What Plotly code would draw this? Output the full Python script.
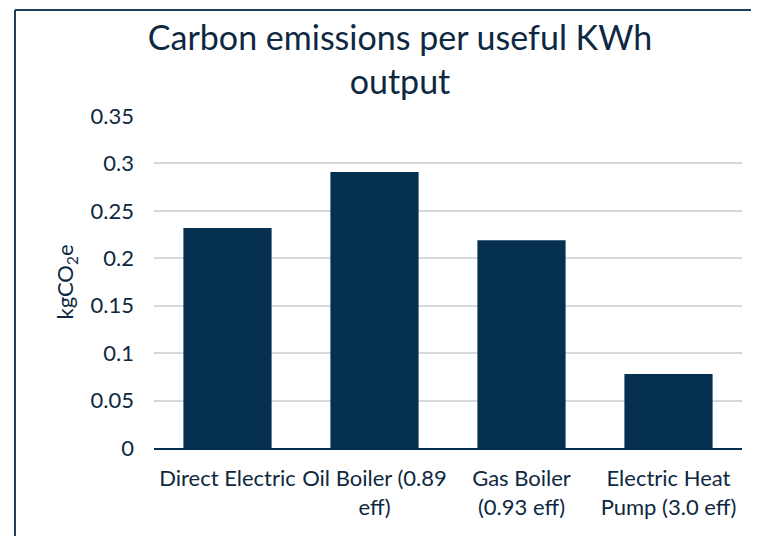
import plotly.graph_objects as go

categories = ["Direct Electric", "Oil Boiler (0.89<br>eff)", "Gas Boiler<br>(0.93 eff)", "Electric Heat<br>Pump (3.0 eff)"]
values = [0.232, 0.291, 0.219, 0.078]
y_ticks = [0, 0.05, 0.1, 0.15, 0.2, 0.25, 0.3, 0.35]
y_tick_labels = ["0", "0.05", "0.1", "0.15", "0.2", "0.25", "0.3", "0.35"]

navy = "#06304F"
text_col = "#0E2841"
font_family = "Lato, Open Sans, sans-serif"

# page has an 8px body margin; work in screen pixels and convert
OFF = 8
W, H = 759 - OFF, 536 - OFF
L, R = 154 - OFF, 759 - 742
T, B = 116 - OFF, 536 - 448
pw, ph = W - L - R, H - T - B

def px_x(sx):
    return (sx - OFF - L) / pw

def px_y(sy):
    return (H - B - (sy - OFF)) / ph

fig = go.Figure(go.Bar(
    x=categories, y=values, marker=dict(color=navy, line=dict(width=0)),
    hoverinfo="x+y",
))

fig.update_layout(
    width=W, height=H,
    margin=dict(l=L, r=R, t=T, b=B),
    paper_bgcolor="white", plot_bgcolor="white",
    bargap=0.4,
    showlegend=False,
    font=dict(family=font_family, color=text_col, size=22),
    title=dict(text="Carbon emissions per useful KWh<br>output",
               x=px_x(400), xref="paper", xanchor="center",
               yref="container", y=1 - 42 / H, yanchor="top",
               font=dict(size=34, color=text_col, family=font_family)),
    xaxis=dict(showgrid=False, showline=True, linecolor=navy, linewidth=2,
               ticks="", ticklabelstandoff=10,
               tickfont=dict(size=22, color=text_col)),
    yaxis=dict(range=[0, 0.35], tickvals=y_ticks, ticktext=y_tick_labels,
               showgrid=True, gridcolor="#D9D9D9", gridwidth=1.5,
               zeroline=False, showline=False, ticks="", ticklen=0,
               ticklabelstandoff=19,
               tickfont=dict(size=22, color=text_col),
               title=dict(text="kgCO<sub>2</sub>e", standoff=10,
                          font=dict(size=22, color=text_col))),
    shapes=[
        dict(type="line", xref="paper", yref="paper",
             x0=px_x(15), x1=px_x(15), y0=px_y(10), y1=px_y(560),
             line=dict(color="#1F3F5F", width=2)),
        dict(type="line", xref="paper", yref="paper",
             x0=px_x(15), x1=px_x(780), y0=px_y(10), y1=px_y(10),
             line=dict(color="#1F3F5F", width=2)),
    ],
)

fig.write_html("out.html")
